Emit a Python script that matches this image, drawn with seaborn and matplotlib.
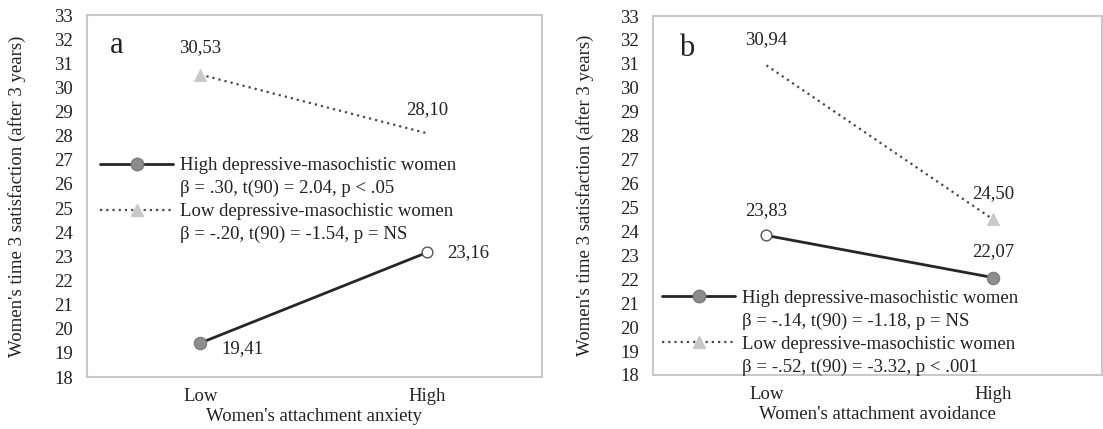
import matplotlib
matplotlib.use("Agg")
import matplotlib.pyplot as plt
import seaborn as sns
import pandas as pd
from matplotlib.lines import Line2D

# ---------------- data ----------------
levels = ["Low", "High"]
y_ticks = list(range(18, 34))

anx_high_dm = [19.41, 23.16]
anx_low_dm = [30.53, 28.10]
avo_high_dm = [23.83, 22.07]
avo_low_dm = [30.94, 24.50]

panel_letters = ["a", "b"]
x_titles = ["Women's attachment anxiety", "Women's attachment avoidance"]
y_title = "Women's time 3 satisfaction (after 3 years)"
series_names = ["High depressive-masochistic women", "Low depressive-masochistic women"]
stats_a = ["β = .30, t(90) = 2.04, p < .05", "β = -.20, t(90) = -1.54, p = NS"]
stats_b = ["β = -.14, t(90) = -1.18, p = NS", "β = -.52, t(90) = -3.32, p < .001"]

# ---------------- style ----------------
sns.set_style("white")
plt.rcParams["font.family"] = ["Liberation Serif", "DejaVu Serif"]

FS = 13.5
DARK = "#262626"
CIRC = "#8c8c8c"
TRI = "#c8c8c8"
FRAME = "#c9c9c9"
TXT = "#222222"

W, H = 1103, 429
fig = plt.figure(figsize=(W / 100, H / 100), dpi=100)


def px_axes(l, r, t, b):
    return fig.add_axes([l / W, (H - b) / H, (r - l) / W, (b - t) / H])


ax_a = px_axes(87, 542, 15, 377)
ax_b = px_axes(653, 1102, 16, 375)

panels = [
    dict(ax=ax_a, high=anx_high_dm, low=anx_low_dm, stats=stats_a, xr=1.507,
         hollow=1, tri=0,
         offs_high=[(42, -6), (41, 0)], offs_low=[(0, 27), (0, 24)],
         leg=(0.029, 0.607), letter=(0.066, 0.915), ylab=-0.134),
    dict(ax=ax_b, high=avo_high_dm, low=avo_low_dm, stats=stats_b, xr=1.48,
         hollow=0, tri=1,
         offs_high=[(0, 25), (0, 26)], offs_low=[(0, 26), (0, 26)],
         leg=(0.02, 0.237), letter=(0.075, 0.91), ylab=-0.131),
]

for i, p in enumerate(panels):
    ax = p["ax"]
    df_h = pd.DataFrame({"level": levels, "value": p["high"]})
    df_l = pd.DataFrame({"level": levels, "value": p["low"]})

    sns.lineplot(data=df_l, x="level", y="value", ax=ax, sort=False,
                 color="#4a4a4a", lw=1.6, linestyle=(0, (1, 1.8)))
    sns.lineplot(data=df_h, x="level", y="value", ax=ax, sort=False,
                 color=DARK, lw=2.0)

    # markers of the high series: one filled, one hollow
    filled = df_h.drop(index=p["hollow"])
    hollow = df_h.loc[[p["hollow"]]]
    sns.scatterplot(data=filled, x="level", y="value", ax=ax, s=80,
                    color=CIRC, edgecolor="#7a7a7a", linewidth=0.8, zorder=5)
    sns.scatterplot(data=hollow, x="level", y="value", ax=ax, s=60,
                    color="white", edgecolor="#555555", linewidth=1.0, zorder=5)
    # visible triangle of the low series
    tri = df_l.loc[[p["tri"]]]
    sns.scatterplot(data=tri, x="level", y="value", ax=ax, s=80, marker="^",
                    color=TRI, edgecolor=TRI, linewidth=0.5, zorder=5)

    # value labels
    for j in range(2):
        ax.annotate(f"{p['high'][j]:.2f}".replace(".", ","), (j, p["high"][j]),
                    xytext=p["offs_high"][j], textcoords="offset pixels",
                    ha="center", va="center", fontsize=FS, color=TXT)
        ax.annotate(f"{p['low'][j]:.2f}".replace(".", ","), (j, p["low"][j]),
                    xytext=p["offs_low"][j], textcoords="offset pixels",
                    ha="center", va="center", fontsize=FS, color=TXT)

    # axes formatting
    ax.set_xlim(-0.5, p["xr"])
    ax.set_ylim(18, 33)
    ax.set_yticks(y_ticks)
    ax.set_yticklabels([str(t) for t in y_ticks])
    ax.set_xticks([0, 1])
    ax.set_xticklabels(levels)
    ax.tick_params(axis="both", length=0, labelsize=FS, colors=TXT)
    ax.tick_params(axis="y", pad=10)
    ax.tick_params(axis="x", pad=8)
    ax.set_xlabel(x_titles[i], fontsize=FS, color=TXT, labelpad=2)
    ax.set_ylabel(y_title, fontsize=FS, color=TXT)
    ax.yaxis.set_label_coords(p["ylab"], 0.5)
    for s in ax.spines.values():
        s.set_visible(True)
        s.set_color(FRAME)
        s.set_linewidth(1.5)
    ax.grid(False)

    ax.text(p["letter"][0], p["letter"][1], panel_letters[i], transform=ax.transAxes,
            fontsize=22, ha="center", va="center", color=TXT)

    # legend: handle on the first line of each entry
    h_high = Line2D([], [], color=DARK, lw=2.0, marker="o", markersize=9,
                    markerfacecolor=CIRC, markeredgecolor="#7a7a7a")
    h_low = Line2D([], [], color="#4a4a4a", lw=1.6, linestyle=(0, (1, 1.8)),
                   marker="^", markersize=9, markerfacecolor=TRI, markeredgecolor=TRI)
    blank = Line2D([], [], color="none")
    leg = ax.legend([h_high, blank, h_low, blank],
                    [series_names[0], p["stats"][0], series_names[1], p["stats"][1]],
                    loc="upper left", bbox_to_anchor=p["leg"], frameon=False,
                    fontsize=FS, handlelength=3.9, handletextpad=0.35,
                    labelspacing=0.3, borderpad=0, borderaxespad=0)
    for t in leg.get_texts():
        t.set_color(TXT)

fig.savefig("out.png", dpi=100, facecolor="white")
